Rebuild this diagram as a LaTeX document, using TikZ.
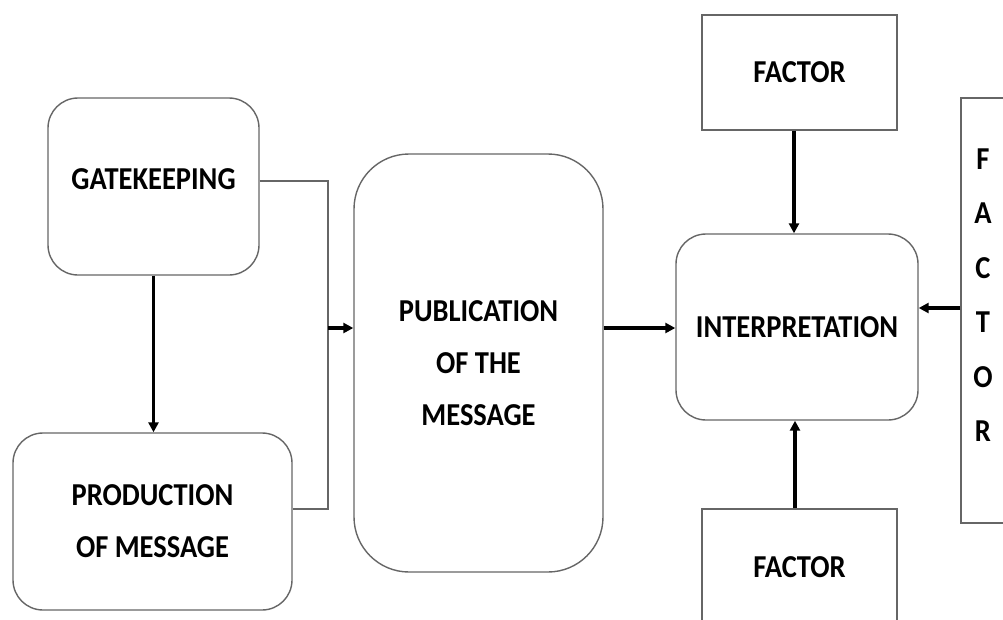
\documentclass[tikz,border=0pt]{standalone}
\usepackage{fontspec}
\setmainfont{Carlito}
\usetikzlibrary{arrows.meta}
\newcommand{\tallcaps}[1]{\scalebox{1}[1.12]{#1}}
\begin{document}
\begin{tikzpicture}[x=1pt,y=-1pt,
  boxline/.style={draw=black!60,line width=1.4pt},
  labelfont/.style={font=\fontsize{28.5}{52}\selectfont\bfseries},
  roundbox/.style={boxline,rectangle,rounded corners=30pt,inner sep=0pt,align=center,labelfont},
  squarebox/.style={boxline,rectangle,inner sep=0pt,align=center,labelfont},
  flow/.style={line width=3.2pt,-{Triangle[length=10pt,width=10pt]}},
  joinline/.style={draw=black!60,line width=1.4pt}]
\useasboundingbox (0,0) rectangle (1003,619);
\clip (0,0) rectangle (1003,619);
\fill[white] (0,0) rectangle (1003,619);

% left column
\node[roundbox,minimum width=211pt,minimum height=177pt] (gate) at (153.5,186.5) {\raisebox{7pt}[\height][\depth]{\tallcaps{GATEKEEPING}}};
\node[roundbox,minimum width=279pt,minimum height=177pt] (prod) at (152.5,521.5) {\tallcaps{PRODUCTION}\\\tallcaps{OF MESSAGE}};

% centre
\node[roundbox,rounded corners=55pt,minimum width=249pt,minimum height=418pt] (pub) at (478.5,363) {\tallcaps{PUBLICATION}\\\tallcaps{OF THE}\\\tallcaps{MESSAGE}};

% right group
\node[roundbox,minimum width=242pt,minimum height=186pt] (interp) at (797,327) {\tallcaps{INTERPRETATION}};
\node[squarebox,minimum width=195pt,minimum height=115pt] (ftop) at (799.5,72.5) {\tallcaps{FACTOR}};
\node[squarebox,minimum width=195pt,minimum height=116pt] (fbot) at (799.5,567) {\tallcaps{FACTOR}};
\node[squarebox,minimum width=100pt,minimum height=425pt] (fright) at (1011,310.5) {};
\node[labelfont,font=\fontsize{28.5}{54.5}\selectfont\bfseries,align=center,inner sep=0pt] (frlabel) at (983,295)
  {\tallcaps{F}\\\tallcaps{A}\\\tallcaps{C}\\\tallcaps{T}\\\tallcaps{O}\\\tallcaps{R}};

% joining bracket from the two left boxes
\coordinate (jt) at (328,181);
\coordinate (jb) at (328,509);
\coordinate (jm) at (328,328);
\draw[joinline] (gate.east |- jt) -- (jt) -- (jb) -- (prod.east |- jb);

% arrows
\draw[flow] (gate.south) -- (prod.north -| gate.south);
\draw[flow] (jm) -- (pub.west |- jm);
\draw[flow] (pub.east |- jm) -- (interp.west |- jm);
\draw[flow] (ftop.south -| 794,0) -- (interp.north -| 794,0);
\draw[flow] (fbot.north -| 795,0) -- (interp.south -| 795,0);
\draw[flow] (fright.west |- 0,308) -- (interp.east |- 0,308);
\end{tikzpicture}
\end{document}
